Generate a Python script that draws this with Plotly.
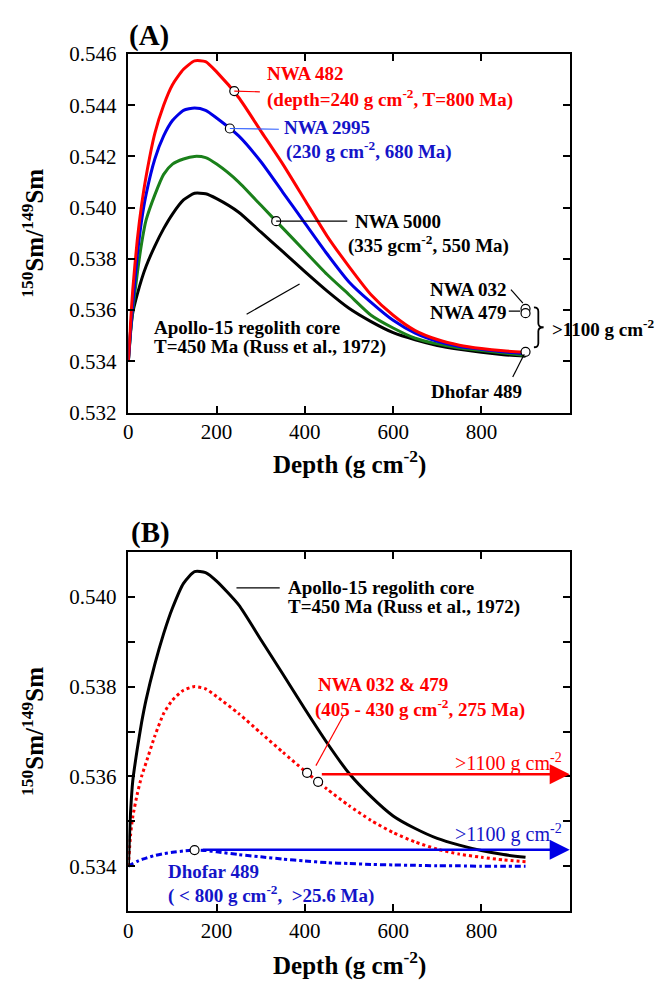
import plotly.graph_objects as go

# ---------------- data ----------------
depth = [0, 5, 10, 20, 30, 40, 60, 80, 100, 125, 150, 175, 200, 250, 300, 350,
         400, 450, 500, 550, 600, 650, 700, 750, 800, 850, 900]

nwa482 = [0.5340, 0.5355, 0.5368, 0.5387, 0.5401, 0.5412, 0.5429, 0.5440, 0.5448, 0.5454,
          0.54573, 0.54570, 0.5453, 0.5443, 0.5430, 0.5417, 0.5403, 0.5389, 0.5377, 0.5366,
          0.5358, 0.5352, 0.53485, 0.53463, 0.53450, 0.53441, 0.53435]
nwa2995 = [0.5340, 0.5352, 0.5362, 0.5381, 0.5395, 0.5405, 0.5419, 0.5428, 0.5434, 0.5438,
           0.54389, 0.5438, 0.5435, 0.5428, 0.5418, 0.5406, 0.5394, 0.5382, 0.5371, 0.5363,
           0.5356, 0.5351, 0.53478, 0.53458, 0.53447, 0.53437, 0.5343]
nwa5000 = [0.5340, 0.5351, 0.5360, 0.5374, 0.5386, 0.5395, 0.5405, 0.5413, 0.5417, 0.5419,
           0.5420, 0.54195, 0.5417, 0.5410, 0.5401, 0.5392, 0.5383, 0.5374, 0.5366, 0.5358,
           0.5353, 0.5349, 0.53468, 0.53452, 0.53442, 0.53432, 0.53423]
apollo15 = [0.5340, 0.5352, 0.5359, 0.5366, 0.5372, 0.5377, 0.5385, 0.53918, 0.53975, 0.5403,
            0.54056, 0.54054, 0.54035, 0.53982, 0.53905, 0.53828, 0.5375, 0.53675, 0.53607,
            0.53555, 0.53512, 0.53484, 0.53462, 0.53447, 0.53435, 0.53426, 0.5342]
nwa032_479 = [0.5340, 0.5347, 0.5351, 0.5356, 0.5360, 0.5363, 0.5369, 0.5374, 0.5377, 0.53792,
              0.5380, 0.53795, 0.53778, 0.5374, 0.53697, 0.53654, 0.53612, 0.53572, 0.53535,
              0.53502, 0.53475, 0.53454, 0.53438, 0.53427, 0.5342, 0.53414, 0.5341]
dhofar489 = [0.5340, 0.53403, 0.53406, 0.53411, 0.53415, 0.53418, 0.53424, 0.53428, 0.53431,
             0.53434, 0.53436, 0.53435, 0.53432, 0.53426, 0.53421, 0.53416, 0.53412, 0.53408,
             0.53406, 0.53404, 0.53403, 0.53402, 0.53401, 0.53401, 0.53400, 0.53400, 0.53400]

# sample points (depth, ratio)
ptsA_x = [240, 230, 335, 900, 900, 900]
ptsA_y = [0.54455, 0.54309, 0.53947, 0.53605, 0.53588, 0.53437]
ptsB_x = [405, 430, 150]
ptsB_y = [0.53608, 0.53588, 0.53436]

xticks = [0, 200, 400, 600, 800]
yticksA = [0.532, 0.534, 0.536, 0.538, 0.540, 0.542, 0.544, 0.546]
yticksB = [0.534, 0.535, 0.536, 0.537, 0.538, 0.539, 0.540]
yticktextB = ["0.534", "", "0.536", "", "0.538", "", "0.540"]

# ---------------- style ----------------
FONT = "Liberation Serif, Times New Roman, serif"
RED = "#ff0000"
BLUE = "#0000e6"
GREEN = "#1a801a"
TBLUE = "#1414c8"

fig = go.Figure()

def curve(x, y, color, xa, ya, dash="solid", width=3):
    fig.add_trace(go.Scatter(x=x, y=y, mode="lines", xaxis=xa, yaxis=ya,
                             line=dict(color=color, width=width, dash=dash, shape="spline", smoothing=0.6),
                             showlegend=False, hoverinfo="skip"))

curve(depth, apollo15, "black", "x", "y")
curve(depth, nwa5000, GREEN, "x", "y")
curve(depth, nwa2995, BLUE, "x", "y")
curve(depth, nwa482, RED, "x", "y")

curve(depth, dhofar489, BLUE, "x2", "y2", dash="6px,3px,3px,3px")
curve(depth, nwa032_479, RED, "x2", "y2", dash="dot")
curve(depth, apollo15, "black", "x2", "y2")

# ---------------- leader lines ----------------
def seg(x0, y0, x1, y1, color, xr, yr, w=1.2):
    fig.add_shape(type="line", x0=x0, y0=y0, x1=x1, y1=y1, xref=xr, yref=yr,
                  line=dict(color=color, width=w), layer="above")

seg(240, 0.54455, 298, 0.54452, RED, "x", "y")
seg(230, 0.54309, 341, 0.54306, "#3060ff", "x", "y")
seg(335, 0.53947, 496, 0.53947, "black", "x", "y")
seg(268, 0.53584, 388, 0.53702, "black", "x", "y")
seg(867, 0.53680, 894, 0.53627, "black", "x", "y")
seg(862, 0.53596, 888, 0.53596, "black", "x", "y")
seg(871, 0.53339, 897, 0.53428, "black", "x", "y")

seg(245, 0.54020, 343, 0.54020, "black", "x2", "y2")
seg(487, 0.53735, 425, 0.53624, RED, "x2", "y2")

# curly brace in panel A
bx0, bxm, bx1 = 919, 929, 941
byt, bym, byb, bd = 0.53611, 0.53533, 0.53455, 0.00016
brace = (f"M {bx0},{byt} Q {bxm},{byt} {bxm},{byt - bd} "
         f"L {bxm},{bym + bd} Q {bxm},{bym} {bx1},{bym} "
         f"Q {bxm},{bym} {bxm},{bym - bd} L {bxm},{byb + bd} Q {bxm},{byb} {bx0},{byb}")
fig.add_shape(type="path", path=brace, xref="x", yref="y", line=dict(color="black", width=1.8))

# markers on top
fig.add_trace(go.Scatter(x=ptsA_x, y=ptsA_y, mode="markers", xaxis="x", yaxis="y",
                         marker=dict(size=9, color="white", line=dict(color="black", width=1.2)),
                         showlegend=False, hoverinfo="skip"))
fig.add_trace(go.Scatter(x=ptsB_x, y=ptsB_y, mode="markers", xaxis="x2", yaxis="y2",
                         marker=dict(size=9, color="white", line=dict(color="black", width=1.2)),
                         showlegend=False, hoverinfo="skip"))

# ---------------- annotations ----------------
anns = []

def txt(text, x, y, xr, yr, color="black", size=19, xanchor="left", bold=True, yanchor="middle", angle=0):
    t = "<b>" + text + "</b>" if bold else text
    anns.append(dict(text=t, x=x, y=y, xref=xr, yref=yr, showarrow=False,
                     xanchor=xanchor, yanchor=yanchor, textangle=angle, borderpad=0,
                     font=dict(family=FONT, size=size, color=color)))

# panel A
txt("NWA 482", 312, 0.54524, "x", "y", RED)
txt("(depth=240 g cm<sup>-2</sup>, T=800 Ma)", 312, 0.54428, "x", "y", RED)
txt("NWA 2995", 350, 0.54314, "x", "y", TBLUE)
txt("(230 g cm<sup>-2</sup>, 680 Ma)", 354, 0.54223, "x", "y", TBLUE)
txt("NWA 5000", 512, 0.53947, "x", "y")
txt("(335 gcm<sup>-2</sup>, 550 Ma)", 495, 0.53855, "x", "y")
txt("Apollo-15 regolith core", 56, 0.53531, "x", "y")
txt("T=450 Ma (Russ et al., 1972)", 56, 0.53455, "x", "y")
txt("NWA 032", 860, 0.53680, "x", "y", xanchor="right")
txt("NWA 479", 860, 0.53592, "x", "y", xanchor="right")
txt("&gt;1100 g cm<sup>-2</sup>", 0.999, 0.53532, "paper", "y", xanchor="right")
txt("Dhofar 489", 894, 0.53282, "x", "y", xanchor="right")

# panel B
txt("Apollo-15 regolith core", 360, 0.54020, "x2", "y2")
txt("T=450 Ma (Russ et al., 1972)", 360, 0.53977, "x2", "y2")
txt("NWA 032 &amp; 479", 428, 0.53805, "x2", "y2", RED)
txt("(405 - 430 g cm<sup>-2</sup>, 275 Ma)", 421, 0.53751, "x2", "y2", RED)
txt("&gt;1100 g cm<sup>-2</sup>", 985, 0.53631, "x2", "y2", RED, xanchor="right", bold=False, size=20)
txt("&gt;1100 g cm<sup>-2</sup>", 985, 0.53473, "x2", "y2", TBLUE, xanchor="right", bold=False, size=20)
txt("Dhofar 489", 87, 0.53388, "x2", "y2", TBLUE)
txt("( &lt; 800 g cm<sup>-2</sup>,  &gt;25.6 Ma)", 87, 0.53337, "x2", "y2", TBLUE)

# arrows in B
for yv, c, x0 in [(0.53605, RED, 435), (0.53437, BLUE, 165)]:
    anns.append(dict(x=1000, y=yv, ax=x0, ay=yv, xref="x2", yref="y2", axref="x2", ayref="y2",
                     text="", showarrow=True, arrowhead=2, arrowsize=1.6, arrowwidth=2.5,
                     arrowcolor=c))

# axis titles & panel labels (paper coords)
xc = (124.3 + 569) / 2 / 656
txt("Depth (g cm<sup>-2</sup>)", xc, 1 - 462 / 990, "paper", "paper", size=25, xanchor="center")
txt("Depth (g cm<sup>-2</sup>)", xc, 1 - 975 / 990, "paper", "paper", size=25, xanchor="center")
txt("<sup>150</sup>Sm/<sup>149</sup>Sm", 28 / 656, 1 - 226.5 / 990, "paper", "paper", size=25,
    xanchor="center", angle=-90)
txt("<sup>150</sup>Sm/<sup>149</sup>Sm", 28 / 656, 1 - 737 / 990, "paper", "paper", size=25,
    xanchor="center", angle=-90)
txt("(A)", 124 / 656, 1 - 24 / 990, "paper", "paper", size=29)
txt("(B)", 126 / 656, 1 - 533 / 990, "paper", "paper", size=29)

axis_common = dict(showline=True, linecolor="black", linewidth=1.5, mirror="ticks",
                   ticks="inside", ticklen=7, tickwidth=1.5, tickcolor="black",
                   showgrid=False, zeroline=False,
                   tickfont=dict(family=FONT, size=21, color="black"))

xdom = [124.3 / 656, 569 / 656]
fig.update_layout(
    width=656, height=990,
    margin=dict(l=0, r=0, t=0, b=0),
    paper_bgcolor="white", plot_bgcolor="white",
    showlegend=False,
    annotations=anns,
    xaxis=dict(domain=xdom, range=[0, 1000], tickvals=xticks, anchor="y", **axis_common),
    yaxis=dict(domain=[1 - 410.5 / 990, 1 - 43 / 990], range=[0.532, 0.546], tickvals=yticksA,
               tickformat=".3f", anchor="x", ticklabelstandoff=6, **axis_common),
    xaxis2=dict(domain=xdom, range=[0, 1000], tickvals=xticks, anchor="y2", **axis_common),
    yaxis2=dict(domain=[1 - 921.5 / 990, 1 - 553.3 / 990], range=[0.533, 0.541], tickvals=yticksB,
                ticktext=yticktextB, anchor="x2", ticklabelstandoff=6, **axis_common),
)

fig.write_html("out.html", config={"displayModeBar": False},
               post_script="document.body.style.margin='0';document.body.style.overflow='hidden';")
